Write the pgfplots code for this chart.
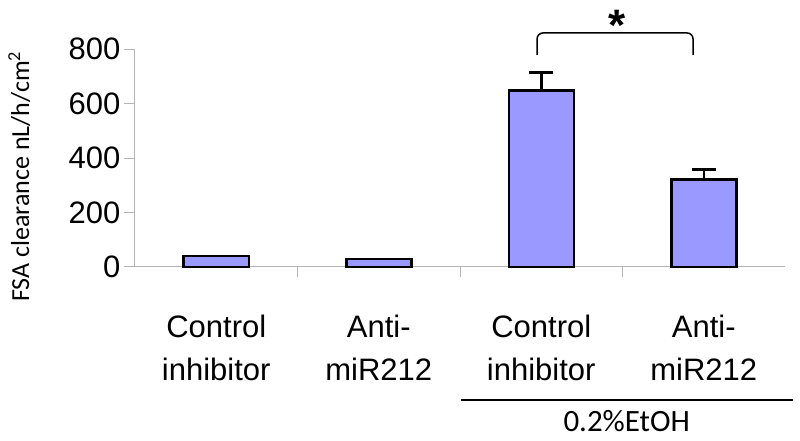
\documentclass[border=0pt]{standalone}
\usepackage{pgfplots}
\pgfplotsset{compat=1.18}
\usepackage{fontspec}
\setmainfont{Liberation Sans}
\newfontfamily\calibri{Carlito}
\definecolor{barblue}{HTML}{9999FF}
\definecolor{axgray}{HTML}{B4B4B4}
\begin{document}
\begin{tikzpicture}
\useasboundingbox (-135pt,-174pt) rectangle (665pt,267pt);
\begin{axis}[
  scale only axis, width=650pt, height=218pt,
  xmin=-0.5, xmax=3.5, ymin=0, ymax=800,
  clip=false,
  axis x line=bottom, axis y line=left,
  axis line style={axgray, line width=1pt, -},
  tick align=outside,
  ytick={0,200,400,600,800},
  major tick length=11pt,
  minor tick length=10pt,
  tick style={axgray, line width=1pt},
  xtick={0,1,2,3},
  major x tick style={draw=none},
  minor xtick={0.5,1.5,2.5},
  xticklabels={{Control\\inhibitor},{Anti-\\miR212},{Control\\inhibitor},{Anti-\\miR212}},
  xticklabel style={align=center, font=\fontsize{31}{42.3}\selectfont, yshift=-34pt},
  /pgf/number format/assume math mode=true,
  yticklabel style={font=\fontsize{31}{31}\selectfont},
  ylabel={FSA clearance nL/h/cm\textsuperscript{2}},
  ylabel style={font=\calibri\fontsize{26}{26}\selectfont, at={(rel axis cs:-0.178,0.415)}, anchor=center},
]
\addplot[ybar, bar width=65pt, fill=barblue, draw=black, line width=2.5pt]
  coordinates {(0,40) (1,29) (2,647) (3,322)};
\addplot[draw=none, mark=none, forget plot,
  error bars/.cd, y dir=plus, y explicit,
  error bar style={draw=black, line width=2.5pt},
  error mark options={draw=black, rotate=90, mark size=12pt, line width=2.5pt}]
  coordinates {(2,647) +- (0,66) (3,322) +- (0,36)};
\draw[line width=1.5pt, rounded corners=6pt] (axis cs:1.974,778) -- (axis cs:1.974,859) -- (axis cs:2.934,859) -- (axis cs:2.934,778);
\node[font=\bfseries\fontsize{44}{44}\selectfont] at (axis cs:2.466,885) {*};
\end{axis}
\draw[line width=1.2pt] (326pt,-133pt) -- (658pt,-133pt);
\node[anchor=base, font=\calibri\fontsize{31}{31}\selectfont] at (491.7pt,-164.7pt) {0.2\%EtOH};
\end{tikzpicture}
\end{document}
